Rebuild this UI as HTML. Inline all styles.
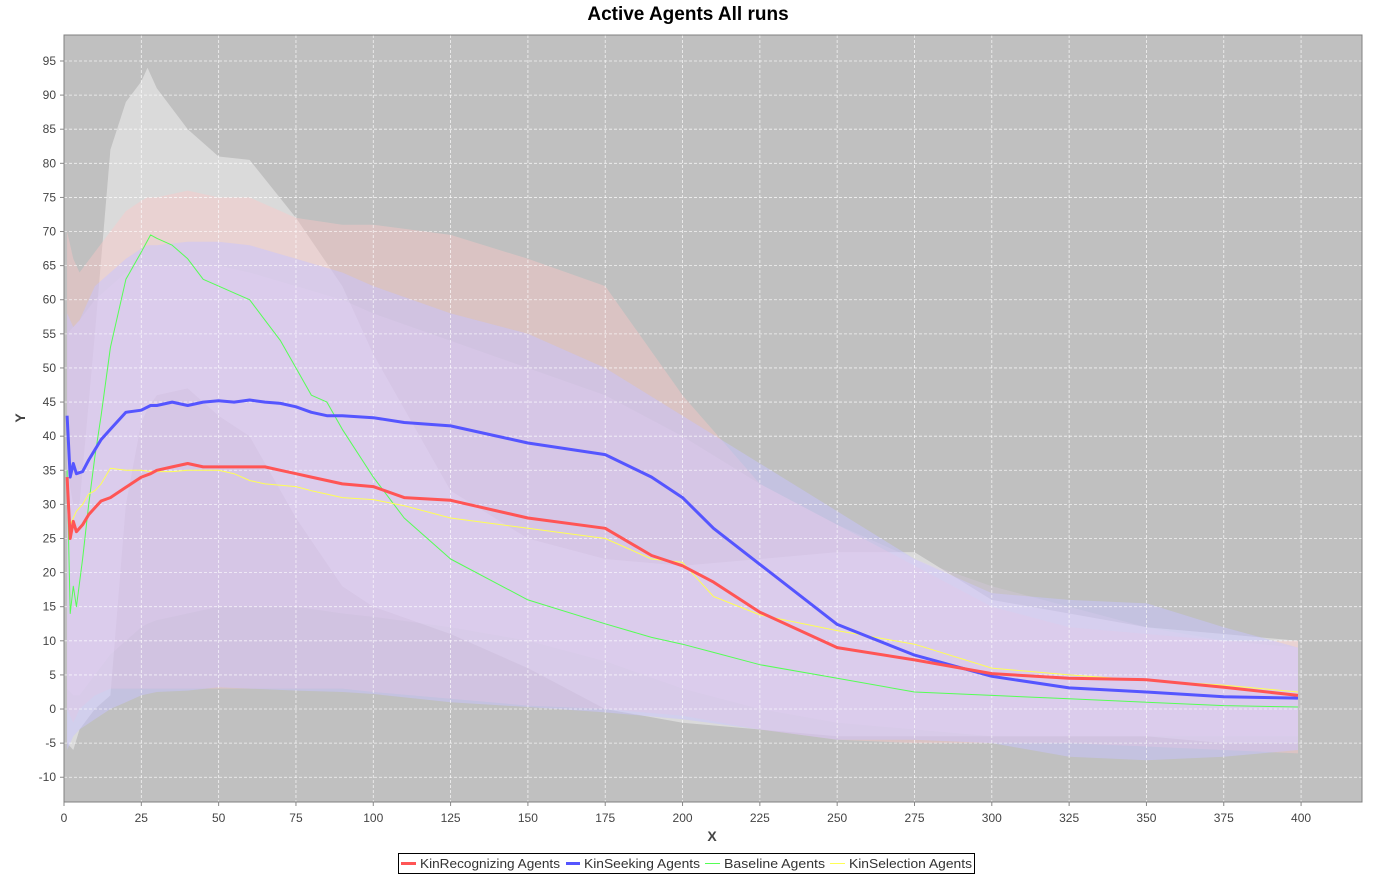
<!DOCTYPE html>
<html><head><meta charset="utf-8"><style>
body{margin:0;background:#fff;font-family:"Liberation Sans",sans-serif;}
svg{display:block}
</style></head><body>
<svg id="chart" width="1375" height="876" xmlns="http://www.w3.org/2000/svg">
<text x="688" y="20" text-anchor="middle" font-family="Liberation Sans, sans-serif" font-weight="bold" font-size="19">Active Agents All runs</text>
<rect x="64" y="35" width="1298" height="767" fill="#c0c0c0"/>
<g id="bands"></g><g id="grid"></g><g id="lines"></g><g id="axes"></g>
<text x="712" y="841" text-anchor="middle" font-weight="bold" font-size="14" fill="#444">X</text>
<text x="25" y="418" text-anchor="middle" font-weight="bold" font-size="14" fill="#444" transform="rotate(-90 25 418)">Y</text>
<g>
<rect x="398.5" y="853.5" width="576" height="20" fill="#fff" stroke="#000" stroke-width="1"/>
<rect x="401" y="862" width="15" height="3" fill="#ff5555"/>
<text x="420" y="868" font-size="13" fill="#333" textLength="140" lengthAdjust="spacingAndGlyphs">KinRecognizing Agents</text>
<rect x="566" y="862" width="14" height="3" fill="#5555ff"/>
<text x="584" y="868" font-size="13" fill="#333" textLength="116" lengthAdjust="spacingAndGlyphs">KinSeeking Agents</text>
<rect x="705" y="863" width="15" height="1" fill="#55ff55"/>
<text x="724" y="868" font-size="13" fill="#333" textLength="101" lengthAdjust="spacingAndGlyphs">Baseline Agents</text>
<rect x="830" y="863" width="15" height="1" fill="#ffff55"/>
<text x="849" y="868" font-size="13" fill="#333" textLength="123" lengthAdjust="spacingAndGlyphs">KinSelection Agents</text>
</g>
</svg>
<script>
const xs = [1,2,3,4,6,8,10,12,15,20,25,28,30,35,40,45,50,55,60,65,70,75,80,85,90,100,110,125,150,175,190,200,210,225,250,275,300,325,350,375,399];
const redMean = [34,25,27.5,26,27,28.5,29.5,30.5,31,32.5,34,34.5,35,35.5,36,35.5,35.5,35.5,35.5,35.5,35,34.5,34,33.5,33,32.6,31,30.6,28,26.5,22.5,21,18.6,14.2,9,7.2,5.2,4.5,4.3,3.2,2];
const blueMean = [43,34,36,34.5,34.8,36.5,38,39.5,41,43.5,43.8,44.5,44.5,45,44.5,45,45.2,45,45.3,45,44.8,44.3,43.5,43,43,42.7,42,41.5,39,37.3,34,31,26.5,21.2,12.4,7.9,4.8,3.1,2.5,1.8,1.6];
const greenMean = [35,14,18,15,22,30,37,43,53,63,67,69.5,69,68,66,63,62,61,60,57,54,50,46,45,41,34,28,22,16,12.5,10.5,9.5,8.3,6.5,4.5,2.5,2,1.5,1,0.5,0.3];
const yellowMean = [34,27,28,29,30,31.5,32,33,35.3,35,35,34.8,34.8,34.8,35,35,35,34.5,33.5,33,32.8,32.6,32,31.5,31,30.7,29.8,28,26.5,25,22,21.5,16.5,13.8,11.5,9.5,6,5,4.2,3.5,2.5];
const bxs = [1,3,5,10,15,20,25,27,30,40,50,60,75,90,100,125,150,175,200,225,250,275,300,325,350,375,399];
const baseUpper = [35,30,30,55,82,89,92,94,91,85,81,80.5,72,62,52,32,25,22,21,22,23,23,16,14,12,11,10];
const baseLower = [-5,-6,-3,0,2,30,42,44,46,47,43,40,28,18,15,11,6,0,-2,-3,-4,-4,-4,-4,-4,-5,-5];
const redUpper = [70,66,64,67,70,73,74.5,75,75,76,75,75,72,71,71,69.5,66,62,46,33,27,21,15,12,11,10,10];
const redLower = [0,-2,0,2,3,3,3,3,3,3,3,3,3,3,2.5,1.5,0.5,0,-1,-3,-4.5,-5,-5,-5,-5.5,-6,-6.5];
const blueUpper = [58,56,57,62,64,66,67.5,68,68,68.5,68.5,68,66,64,62,58,55,50,43,36,29,22,17,16,15.5,12,9];
const blueLower = [-6,-4,-3,-1.5,0,1,2,2.2,2.5,2.7,3.2,3,2.7,2.5,2.2,1,0.3,-0.5,-1.5,-3,-4.5,-4.5,-5,-7,-7.5,-7,-6];
const yelUpper = [55,56,57,60,62,64,65,65,65,65,65,64,62,60,58,54,50,46,40,33,27,22,18,15,12,10,9];
const yelLower = [3,2,2,5,8,10,12,12.5,13,14,15,15,15,14,13.5,12,10,7,3,0,-2,-3,-4,-4,-4,-4,-4];
const xTicks = [0,25,50,75,100,125,150,175,200,225,250,275,300,325,350,375,400];
const yTicks = [-10,-5,0,5,10,15,20,25,30,35,40,45,50,55,60,65,70,75,80,85,90,95];

const L=64,R=1362,T=35,B=802,XMAX=419.7,YMIN=-13.63,YMAX=98.81;
const sx=v=>L+(v/XMAX)*(R-L);
const sy=v=>B-(v-YMIN)/(YMAX-YMIN)*(B-T);
const NS="http://www.w3.org/2000/svg";
function mk(tag,attrs,parent){const e=document.createElementNS(NS,tag);for(const k in attrs)e.setAttribute(k,attrs[k]);parent.appendChild(e);return e;}
const gB=document.getElementById('bands'),gG=document.getElementById('grid'),gL=document.getElementById('lines'),gA=document.getElementById('axes');
function band(up,lo,fill,name){
  let d='M'+bxs.map((x,i)=>sx(x).toFixed(1)+','+sy(up[i]).toFixed(1)).join('L');
  for(let i=bxs.length-1;i>=0;i--)d+='L'+sx(bxs[i]).toFixed(1)+','+sy(lo[i]).toFixed(1);
  const p=mk('path',{d:d+'Z',fill:fill},gB);
  
  
}
band(baseUpper,baseLower,'rgba(255,255,255,0.42)','baseline-band');
band(redUpper,redLower,'rgba(255,200,200,0.42)','kinrecognizing-band');
band(blueUpper,blueLower,'rgba(200,195,255,0.5)','kinseeking-band');
band(yelUpper,yelLower,'rgba(235,210,250,0.2)','kinselection-band');
yTicks.forEach(v=>{
  const y=sy(v);
  const g=mk('line',{x1:L,x2:R,y1:y,y2:y,stroke:'#fff','stroke-dasharray':'3,2','stroke-width':0.8,opacity:0.8},gG);
  
  
  mk('line',{x1:L-4,x2:L,y1:y,y2:y,stroke:'#888'},gA);
  const t=mk('text',{x:L-8,y:y+4,'text-anchor':'end','font-size':12,fill:'#444'},gA);
  t.textContent=v;
  
  
});
xTicks.forEach(v=>{
  const x=sx(v);
  const g=mk('line',{x1:x,x2:x,y1:T,y2:B,stroke:'#fff','stroke-dasharray':'3,2','stroke-width':0.8,opacity:0.8},gG);
  
  
  mk('line',{x1:x,x2:x,y1:B,y2:B+4,stroke:'#888'},gA);
  const t=mk('text',{x:x,y:B+20,'text-anchor':'middle','font-size':12,fill:'#444'},gA);
  t.textContent=v;
  
  
});
function line(vals,color,w,name){
  const d='M'+xs.map((x,i)=>sx(x).toFixed(1)+','+sy(vals[i]).toFixed(1)).join('L');
  const p=mk('path',{d:d,fill:'none',stroke:color,'stroke-width':w,'stroke-linejoin':'round'},gL);
  
  
}
line(greenMean,'#55ff55',1,'baseline-line');
line(yellowMean,'#ffff55',1,'kinselection-line');
line(blueMean,'#5555ff',3,'kinseeking-line');
line(redMean,'#ff5555',3,'kinrecognizing-line');
const fr=mk('rect',{x:L,y:T,width:R-L,height:B-T,fill:'none',stroke:'#808080','stroke-width':1},gA);


</script>
</body></html>
